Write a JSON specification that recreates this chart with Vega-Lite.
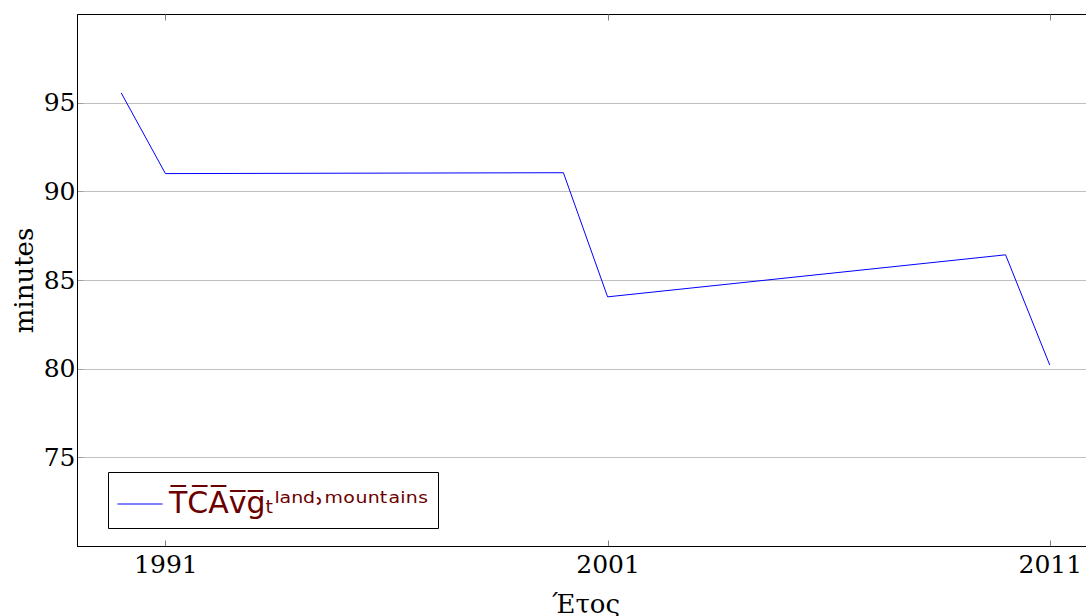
{
  "$schema": "https://vega.github.io/schema/vega-lite/v6.json",
  "width": 1017,
  "height": 532,
  "padding": {"top": 13, "left": 11, "right": 0, "bottom": 0},
  "background": "white",
  "data": {"values": [
    {"year": 1990, "minutes": 95.55, "series": "T̅C̅A̅v̅g̅ₜˡᵃⁿᵈ˒ᵐᵒᵘⁿᵗᵃⁱⁿˢ"},
    {"year": 1991, "minutes": 91.0, "series": "T̅C̅A̅v̅g̅ₜˡᵃⁿᵈ˒ᵐᵒᵘⁿᵗᵃⁱⁿˢ"},
    {"year": 2000, "minutes": 91.05, "series": "T̅C̅A̅v̅g̅ₜˡᵃⁿᵈ˒ᵐᵒᵘⁿᵗᵃⁱⁿˢ"},
    {"year": 2001, "minutes": 84.05, "series": "T̅C̅A̅v̅g̅ₜˡᵃⁿᵈ˒ᵐᵒᵘⁿᵗᵃⁱⁿˢ"},
    {"year": 2010, "minutes": 86.42, "series": "T̅C̅A̅v̅g̅ₜˡᵃⁿᵈ˒ᵐᵒᵘⁿᵗᵃⁱⁿˢ"},
    {"year": 2011, "minutes": 80.2, "series": "T̅C̅A̅v̅g̅ₜˡᵃⁿᵈ˒ᵐᵒᵘⁿᵗᵃⁱⁿˢ"}
  ]},
  "layer": [
    {
      "mark": {"type": "line", "strokeWidth": 1, "clip": true},
      "encoding": {
        "x": {
          "field": "year", "type": "quantitative",
          "scale": {"domain": [1989, 2012], "nice": false, "zero": false},
          "axis": {"values": [1991, 2001, 2011], "format": "d", "grid": false, "title": "Έτος",
            "tickSize": -6, "tickColor": "#808080", "labelPadding": 12, "titlePadding": 14, "domainColor": "black"}
        },
        "y": {
          "field": "minutes", "type": "quantitative",
          "scale": {"domain": [70, 100], "nice": false, "zero": false},
          "axis": {"values": [75, 80, 85, 90, 95], "grid": true, "gridColor": "#c0c0c0", "title": "minutes",
            "tickSize": -6, "tickColor": "#a0a0a0", "labelPadding": 8, "titlePadding": 6, "domainColor": "black"}
        },
        "color": {
          "field": "series", "type": "nominal",
          "scale": {"range": ["#0000ff"]},
          "legend": {"title": null, "orient": "none", "legendX": 31, "legendY": 458,
            "strokeColor": "black", "fillColor": "white", "padding": 9,
            "symbolType": "stroke", "symbolSize": 2025, "symbolStrokeWidth": 1, "labelOffset": 6,
            "labelFont": "DejaVu Sans", "labelFontSize": 30, "labelColor": "#6b0000", "labelLimit": 500}
        }
      }
    },
    {
      "mark": {"type": "line", "strokeWidth": 1, "opacity": 0},
      "encoding": {
        "x": {
          "field": "year", "type": "quantitative",
          "scale": {"domain": [1989, 2012], "nice": false, "zero": false},
          "axis": {"orient": "top", "values": [1991, 2001, 2011], "labels": false, "title": null, "grid": false,
            "tickSize": -6, "tickColor": "#808080", "domain": false}
        },
        "y": {"field": "minutes", "type": "quantitative"}
      }
    }
  ],
  "resolve": {"axis": {"x": "independent"}},
  "config": {
    "view": {"stroke": "black", "strokeWidth": 1},
    "axis": {"labelFont": "DejaVu Serif", "labelFontSize": 25, "labelColor": "black",
      "titleFont": "DejaVu Serif", "titleFontSize": 26, "titleFontWeight": "normal", "titleColor": "black"}
  }
}
